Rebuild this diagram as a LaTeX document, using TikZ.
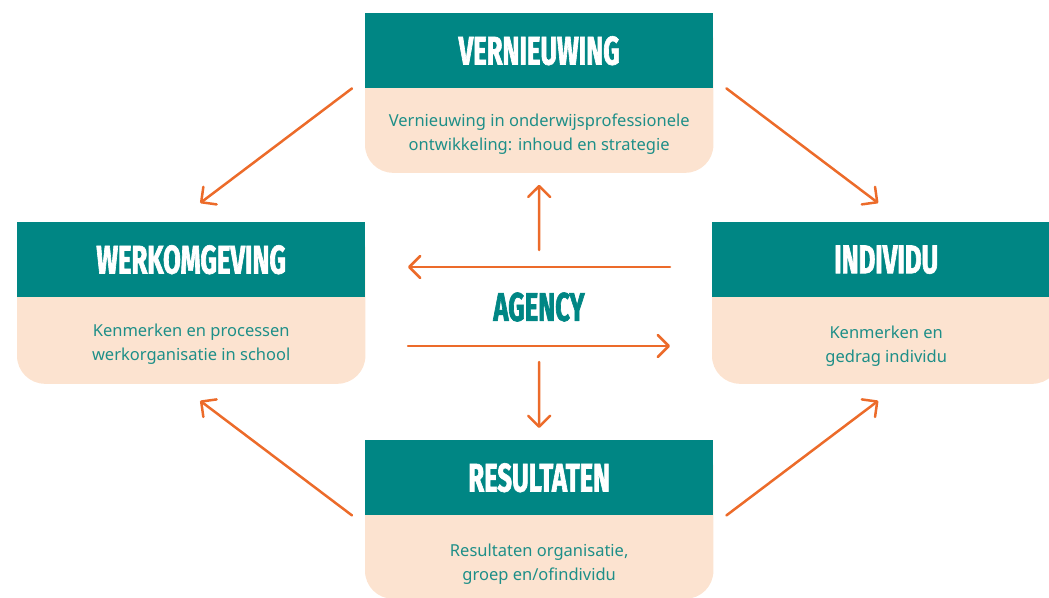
\documentclass[tikz,border=0pt]{standalone}
\usepackage{fontspec}
\setmainfont{Noto Sans}
\newfontfamily\kopfont[FakeStretch=0.64,BoldFeatures={FakeBold=1.6}]{Fira Sans}
\usetikzlibrary{positioning,backgrounds,arrows.meta}

\definecolor{kopteal}{HTML}{008684}
\definecolor{tekstteal}{HTML}{1E8F88}
\definecolor{perzik}{HTML}{FCE3D0}
\definecolor{oranje}{HTML}{EC6B2A}

\begin{document}
\begin{tikzpicture}[x=1pt,y=-1pt,
    kop/.style={fill=kopteal,text=white,anchor=north west,minimum width=348pt,minimum height=75pt,inner sep=0pt,
        font=\kopfont\bfseries\fontsize{40}{40}\selectfont},
    tekst/.style={text=tekstteal,align=center,minimum width=348pt,minimum height=#1,inner sep=0pt,
        font=\fontsize{16.5}{24}\selectfont},
    tekst/.default=85pt,
    pijl/.style={draw=oranje,line width=2.5pt,line cap=round,-{Straight Barb[length=11pt,width=22pt,round]}}]

\useasboundingbox (0,0) rectangle (1049,597);

% blokken
\node[kop] (vern) at (365,13) {VERNIEUWING};
\node[tekst=77pt,below=7pt of vern] (vern-txt) {Vernieuwing in onderwijsprofessionele\\ontwikkeling: inhoud en strategie};

\node[kop] (werk) at (17,222) {WERKOMGEVING};
\node[tekst=78pt,below=8pt of werk] (werk-txt) {Kenmerken en processen\\werkorganisatie in school};

\node[kop] (indiv) at (712,222) {INDIVIDU};
\node[tekst=74pt,below=12pt of indiv] (indiv-txt) {Kenmerken en\\gedrag individu};

\node[kop] (resul) at (365,440) {RESULTATEN};
\node[tekst=69pt,below=14pt of resul] (resul-txt) {Resultaten organisatie,\\groep en/ofindividu};

\begin{scope}[on background layer]
\foreach \b in {vern,werk,indiv,resul}
    \fill[perzik,rounded corners=28pt] (\b.north west) rectangle (\b-txt.south east);
\end{scope}

\node[text=kopteal,font=\kopfont\bfseries\fontsize{40}{40}\selectfont] (agency) at (539,307) {AGENCY};

% pijlen rond agency
\draw[pijl] ([yshift=57pt]agency.center) -- ([yshift=-12pt]vern-txt.south);
\draw[pijl] ([yshift=-55pt]agency.center) -- ([yshift=12pt]resul.north);
\draw[pijl] ([shift={(131pt,40pt)}]agency.center) -- ([shift={(-131pt,40pt)}]agency.center);
\draw[pijl] ([shift={(-131pt,-39pt)}]agency.center) -- ([shift={(131pt,-39pt)}]agency.center);

% diagonale pijlen
\draw[pijl] ([xshift=-13pt]vern.south west) -- ([shift={(9pt,19pt)}]werk.north);
\draw[pijl] ([xshift=13pt]vern.south east) -- ([shift={(-8pt,19pt)}]indiv.north);
\draw[pijl] ([xshift=-13pt]resul.south west) -- ([shift={(9pt,-17pt)}]werk-txt.south);
\draw[pijl] ([xshift=13pt]resul.south east) -- ([shift={(-8pt,-17pt)}]indiv-txt.south);

\end{tikzpicture}
\end{document}
